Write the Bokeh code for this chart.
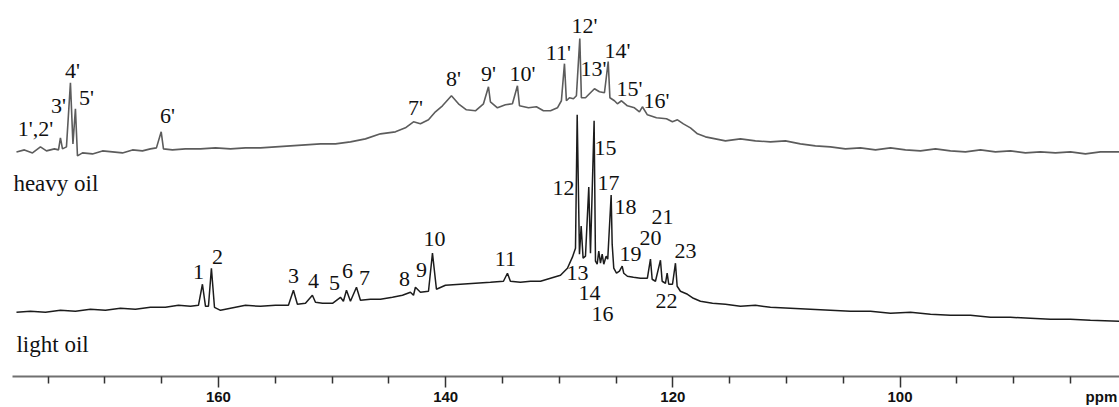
from bokeh.plotting import figure
from bokeh.models import Range1d, FixedTicker, ColumnDataSource, LinearAxis
from bokeh.core.properties import value
from bokeh.embed import file_html
from bokeh.resources import INLINE

# ---------------- data (chemical shift in ppm, arbitrary intensity) ----------------
heavy_ppm = [177.78, 177.08, 176.37, 175.67, 175.14, 174.44, 174.08, 173.91, 173.73, 173.38,
             173.03, 172.81, 172.59, 172.41, 171.97, 171.09, 170.21, 169.33, 168.45, 167.57,
             166.69, 165.99, 165.46, 165.04, 164.84, 164.05, 162.91, 161.58, 160.26, 158.94,
             157.62, 156.30, 154.98, 153.66, 152.34, 151.02, 149.70, 148.38, 147.06, 145.74,
             144.42, 143.54, 142.83, 142.22, 141.51, 140.90, 140.28, 139.49, 138.87, 138.17,
             137.38, 136.67, 136.23, 136.06, 135.44, 134.74, 134.12, 133.68, 133.50, 132.71,
             132.01, 131.39, 130.77, 130.16, 129.81, 129.54, 129.37, 129.10, 128.75, 128.49,
             128.19, 128.05, 127.69, 127.34, 126.90, 126.46, 126.02, 125.69, 125.54, 125.14,
             124.88, 124.52, 124.00, 123.38, 122.94, 122.68, 122.24, 121.44, 120.56, 120.04,
             119.59, 119.07, 118.45, 117.83, 117.13, 116.25, 115.37, 114.05, 112.73, 111.41,
             110.09, 108.77, 107.45, 106.13, 104.81, 103.49, 102.16, 100.84, 99.52, 98.20,
             96.88, 95.56, 94.24, 92.92, 91.60, 90.28, 88.96, 87.64, 86.32, 85.00,
             83.68, 82.36, 80.68]
heavy_int = [6, 8, 5, 11, 7, 9, 8, 20, 9, 11,
             75, 14, 49, 2, 5, 4, 7, 6, 5, 8,
             7, 9, 10, 26, 9, 8, 9, 9, 10, 9,
             10, 10, 11, 12, 13, 14, 14, 16, 19, 24,
             26, 30, 36, 34, 38, 46, 52, 62, 54, 48,
             47, 54, 71, 56, 50, 53, 54, 72, 52, 50,
             51, 47, 47, 50, 57, 94, 57, 60, 59, 62,
             119, 60, 60, 64, 69, 66, 65, 96, 60, 57,
             54, 57, 52, 50, 46, 51, 43, 40, 39, 36,
             38, 34, 30, 24, 21, 19, 17, 19, 17, 16,
             17, 14, 12, 11, 9, 10, 8, 10, 8, 7,
             9, 7, 6, 8, 6, 7, 5, 6, 5, 6,
             4, 6, 6]

light_ppm = [177.78, 176.55, 175.23, 173.91, 172.59, 171.27, 169.95, 168.63, 167.31, 165.99,
             164.67, 163.52, 162.46, 161.76, 161.41, 161.14, 160.88, 160.62, 160.35, 159.82,
             158.94, 157.62, 156.30, 154.98, 153.84, 153.40, 153.05, 152.34, 151.73, 151.46,
             150.84, 149.96, 149.26, 149.00, 148.73, 148.38, 147.85, 147.50, 146.62, 145.74,
             144.68, 143.80, 143.10, 142.83, 142.66, 142.22, 141.51, 141.16, 140.81, 140.02,
             138.70, 137.38, 136.06, 134.91, 134.56, 134.30, 133.42, 132.53, 131.65, 130.77,
             129.89, 129.28, 128.84, 128.57, 128.42, 128.22, 128.07, 127.90, 127.69, 127.40,
             127.25, 126.93, 126.81, 126.66, 126.52, 126.37, 126.22, 126.08, 125.87, 125.73,
             125.43, 125.34, 125.20, 124.96, 124.70, 124.46, 124.32, 124.00, 123.47, 122.85,
             122.24, 121.97, 121.82, 121.53, 121.09, 120.94, 120.65, 120.50, 120.36, 120.03,
             119.77, 119.62, 119.33, 118.71, 118.19, 117.57, 116.51, 115.37, 114.05, 112.73,
             111.41, 109.65, 107.89, 106.13, 104.37, 102.60, 100.84, 99.08, 97.32, 95.56,
             93.80, 92.04, 90.28, 88.52, 86.76, 85.00, 83.24, 80.68]
light_int = [6, 7, 6, 8, 7, 9, 8, 10, 9, 11,
             11, 13, 12, 13, 34, 12, 12, 50, 11, 8,
             10, 13, 12, 13, 13, 28, 14, 15, 23, 16,
             15, 15, 21, 17, 28, 17, 31, 18, 19, 19,
             21, 23, 26, 23, 31, 26, 27, 65, 29, 33,
             34, 35, 36, 37, 45, 37, 36, 37, 37, 40,
             43, 50, 61, 70, 203, 64, 92, 60, 62, 131,
             65, 197, 57, 54, 67, 55, 64, 54, 62, 59,
             123, 74, 50, 45, 47, 52, 45, 42, 41, 40,
             40, 59, 39, 37, 58, 37, 35, 45, 34, 34,
             55, 32, 27, 24, 20, 17, 15, 14, 12, 13,
             11, 10, 9, 8, 7, 7, 5, 6, 4, 3,
             3, 1, 1, 0, -1, -1, -2, -3]

heavy_labels = ["1',2'", "3'", "4'", "5'", "6'", "7'", "8'", "9'", "10'", "11'",
                "12'", "13'", "14'", "15'", "16'"]
heavy_label_ppm = [176.11, 174.08, 172.85, 171.62, 164.49, 142.66, 139.31, 136.23, 133.24, 130.07,
                   127.78, 126.99, 124.88, 123.82, 121.44]
heavy_label_int = [29, 52, 87, 60, 42, 50, 79, 84, 84, 105, 132, 89, 107, 69, 57]

light_labels = ["1", "2", "3", "4", "5", "6", "7", "8", "9", "10", "11", "12",
                "13", "14", "15", "16", "17", "18", "19", "20", "21", "22", "23"]
light_label_ppm = [161.76, 160.09, 153.40, 151.64, 149.79, 148.64, 147.15, 143.63, 142.13, 140.99,
                   134.74, 129.63, 128.40, 127.34, 125.93, 126.20, 125.67, 124.17, 123.73, 121.97,
                   120.91, 120.56, 118.89]
light_label_int = [46, 61, 42, 37, 35, 47, 40, 39, 48, 79, 59, 130, 45, 25, 170, 4, 135, 111,
                   64, 80, 101, 17, 67]

sample_names = ["heavy oil", "light oil"]
major_ticks = [160, 140, 120, 100]
minor_ticks = [175, 170, 165, 155, 150, 145, 135, 130, 125, 115, 110, 105, 95, 90, 85]
unit_label = "ppm"
unit_label_ppm = 82.27

# ---------------- layout constants ----------------
HEAVY_OFFSET = 218
LIGHT_OFFSET = 58
SERIF = value("Liberation Serif")

p = figure(width=1119, height=407, output_backend="svg", toolbar_location=None,
           x_range=Range1d(178.13, 80.68), y_range=Range1d(0, 375),
           y_axis_location=None, min_border_left=12, min_border_right=0,
           min_border_top=0, min_border_bottom=0)
p.grid.visible = False
p.outline_line_color = None
p.background_fill_color = "white"

heavy_src = ColumnDataSource(dict(x=heavy_ppm, y=[v + HEAVY_OFFSET for v in heavy_int]))
light_src = ColumnDataSource(dict(x=light_ppm, y=[v + LIGHT_OFFSET for v in light_int]))
p.line("x", "y", source=heavy_src, line_color="#5c5c5c", line_width=1.6)
p.line("x", "y", source=light_src, line_color="#1c1c1c", line_width=1.5)

hl_src = ColumnDataSource(dict(x=heavy_label_ppm, y=[v + HEAVY_OFFSET for v in heavy_label_int],
                               t=heavy_labels))
ll_src = ColumnDataSource(dict(x=light_label_ppm, y=[v + LIGHT_OFFSET for v in light_label_int],
                               t=light_labels))
for src in (hl_src, ll_src):
    p.text("x", "y", text="t", source=src, text_font=SERIF, text_font_size="22px",
           text_align="center", text_baseline="middle", text_color="#111111")

p.text(x=[178.05, 177.78], y=[HEAVY_OFFSET - 26, LIGHT_OFFSET - 26], text=sample_names,
       text_font=SERIF, text_font_size="23px", text_align="left",
       text_baseline="alphabetic", text_color="#111111")

ax = p.xaxis[0]
ax.ticker = FixedTicker(ticks=major_ticks, minor_ticks=minor_ticks)
ax.axis_line_color = "#707070"
ax.axis_line_width = 2
ax.major_tick_line_color = "#333333"
ax.minor_tick_line_color = "#333333"
ax.major_tick_line_width = 1.5
ax.minor_tick_line_width = 1.5
ax.major_tick_out = 11
ax.major_tick_in = 0
ax.minor_tick_out = 7
ax.minor_tick_in = 0
ax.major_label_standoff = 4
ax.major_label_text_font = "Liberation Sans"
ax.major_label_text_font_style = "bold"
ax.major_label_text_font_size = "15px"
ax.major_label_text_color = "#111111"

# second, mark-less axis that only carries the unit text, pulled up into the same row
unit_axis = LinearAxis(ticker=FixedTicker(ticks=[unit_label_ppm], minor_ticks=[]),
                       major_label_overrides={unit_label_ppm: unit_label},
                       axis_line_color=None, major_tick_line_color=None,
                       minor_tick_line_color=None, major_tick_out=0, major_tick_in=0,
                       minor_tick_out=0, minor_tick_in=0, major_label_standoff=-17,
                       major_label_text_font="Liberation Sans",
                       major_label_text_font_style="bold",
                       major_label_text_font_size="15px",
                       major_label_text_color="#111111")
p.add_layout(unit_axis, "below")

open("out.html", "w").write(file_html(p, INLINE))
